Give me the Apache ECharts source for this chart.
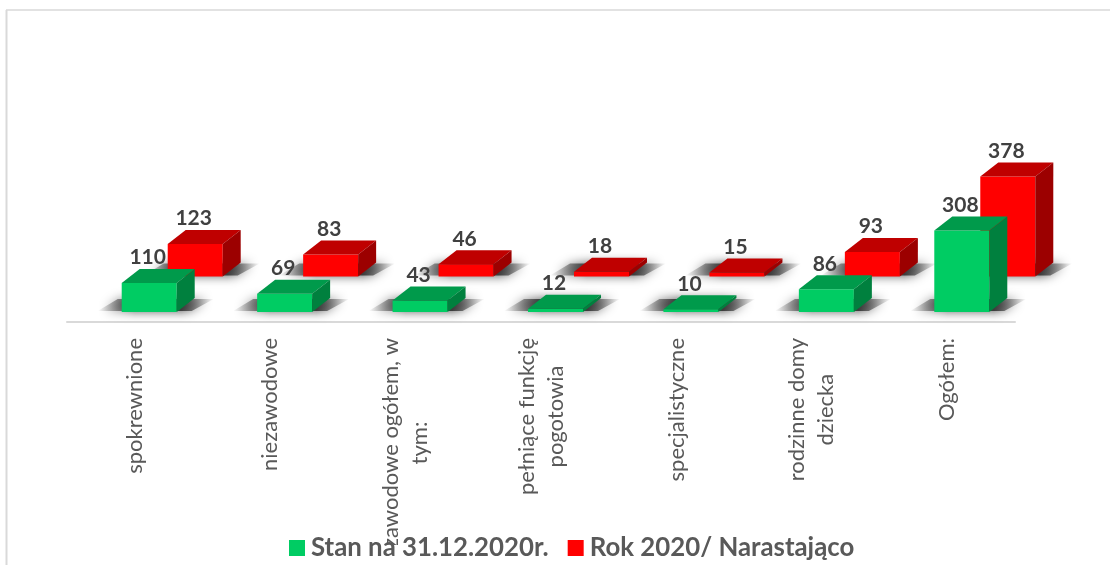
<!DOCTYPE html>
<html><head><meta charset="utf-8">
<style>html,body{margin:0;padding:0;background:#fff}#c{width:1110px;height:565px}</style>
<script src="https://cdn.jsdelivr.net/npm/echarts@6/dist/echarts.min.js"></script>
</head><body><div id="c"></div>
<script>
const categories = ['spokrewnione','niezawodowe','zawodowe ogółem, w\ntym:','pełniące funkcję\npogotowia','specjalistyczne','rodzinne domy\ndziecka','Ogółem:'];
const stan = [110,69,43,12,10,86,308];
const rok = [123,83,46,18,15,93,378];
const FONT = 'Lato, "Noto Sans", sans-serif';

function bars(offX, offY, front, top, side){
  return function(params, api){
    const v = api.value(1);
    const p0 = api.coord([api.value(0), 0]);
    const p1 = api.coord([api.value(0), v]);
    const x = p0[0] + offX, w = 55, dx = 18, dy = 14;
    const yb = p0[1] + offY, yt = p1[1] + offY;
    const poly = (pts, fill) => ({type:'polygon', silent:true, shape:{points:pts}, style:{fill:fill}});
    const shade = new echarts.graphic.LinearGradient(0,0,1,0,[
      {offset:0, color:'rgba(55,55,55,0)'},
      {offset:0.32, color:'rgba(55,55,55,0.95)'},
      {offset:0.72, color:'rgba(55,55,55,0.95)'},
      {offset:1, color:'rgba(55,55,55,0)'}]);
    const shadow = {type:'polygon', silent:true, z2:-1,
      shape:{points:[[x-24,yb-1],[x+70,yb-1],[x+92,yb-13],[x-4,yb-13]]},
      style:{fill:shade, shadowBlur:11, shadowColor:'rgba(55,55,55,0.95)'}};
    return {type:'group', children:[
      shadow,
      poly([[x,yb],[x+w,yb],[x+w,yt],[x,yt]], front),
      poly([[x,yt],[x+w,yt],[x+w+dx,yt-dy],[x+dx,yt-dy]], top),
      poly([[x+w,yb],[x+w+dx,yb-dy],[x+w+dx,yt-dy],[x+w,yt]], side),
      {type:'text', silent:true, z2:5, style:{text:String(v), x:x+26, y:yt-dy-1, align:'center', verticalAlign:'bottom',
        font:'bold 21px '+FONT, fill:'#404040'}}
    ]};
  };
}

const chart = echarts.init(document.getElementById('c'), null, {renderer:'canvas'});
chart.setOption({
  animation:false,
  backgroundColor:'#fff',
  grid:{left:67, width:948, top:57.4, height:264.6},
  xAxis:{type:'category', data:categories,
    axisLine:{lineStyle:{color:'#d9d9d9', width:2}}, axisTick:{show:false},
    axisLabel:{interval:0, rotate:90, margin:16, color:'#595959', fontFamily:FONT, fontSize:22, lineHeight:29,
      formatter:s=>s.split('\n').map(l=>'{c|'+l+'}').join('\n'),
      rich:{c:{align:'center', color:'#595959', fontFamily:FONT, fontSize:22, lineHeight:29}}}},
  yAxis:{type:'value', min:0, max:1000, show:false, splitLine:{show:false}},
  legend:{data:['Stan na 31.12.2020r.','Rok 2020/ Narastająco'], left:284, top:530, itemWidth:16, itemHeight:16, itemGap:19, icon:'rect',
    textStyle:{fontFamily:FONT, fontWeight:'bold', fontSize:25.8, color:'#595959', padding:[0,0,0,1]}, z:10},
  graphic:[
    {type:'line', z:1, shape:{x1:6,y1:10,x2:1110,y2:10}, style:{stroke:'#d9d9d9',lineWidth:1.5}},
    {type:'line', z:1, shape:{x1:6.5,y1:10,x2:6.5,y2:565}, style:{stroke:'#d9d9d9',lineWidth:2}},
    {type:'rect', z:5, shape:{x:370,y:545,width:50,height:20}, style:{fill:'#fff'}}
  ],
  series:[
    {name:'Rok 2020/ Narastająco', type:'custom', clip:false, z:2, itemStyle:{color:'#ff0000'},
      data:rok.map((v,i)=>[i,v]), encode:{x:0,y:1}, renderItem:bars(33,-45.5,'#ff0000','#bf0000','#9c0000')},
    {name:'Stan na 31.12.2020r.', type:'custom', clip:false, z:3, itemStyle:{color:'#00cc63'},
      data:stan.map((v,i)=>[i,v]), encode:{x:0,y:1}, renderItem:bars(-13,-10,'#00cc63','#009a4b','#00803e')}
  ]
});
</script></body></html>
